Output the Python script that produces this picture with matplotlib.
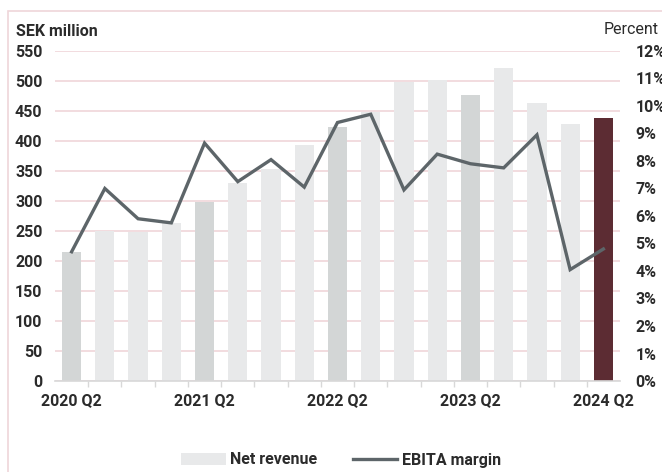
import matplotlib
matplotlib.use("Agg")
import matplotlib.pyplot as plt
from matplotlib.patches import Rectangle, Patch
from matplotlib.lines import Line2D

quarters = ["2020 Q2", "2020 Q3", "2020 Q4", "2021 Q1", "2021 Q2", "2021 Q3", "2021 Q4",
            "2022 Q1", "2022 Q2", "2022 Q3", "2022 Q4", "2023 Q1", "2023 Q2", "2023 Q3",
            "2023 Q4", "2024 Q1", "2024 Q2"]
net_revenue = [215, 250, 248, 264, 298, 330, 353, 394, 424, 449, 498, 502, 476, 522, 463, 428, 438]
ebita_margin = [4.7, 7.0, 5.9, 5.75, 8.65, 7.25, 8.05, 7.05, 9.4, 9.7, 6.95, 8.25, 7.9, 7.75, 8.95, 4.05, 4.8]
tick_labels = ["2020 Q2", "2021 Q2", "2022 Q2", "2023 Q2", "2024 Q2"]
left_ticks = list(range(0, 551, 50))
right_ticks = list(range(0, 13))

FONT = "Roboto"
TXT = "#2b2b2b"
FS = 11.5
WT = "bold"
plt.rcParams["font.family"] = [FONT, "DejaVu Sans"]

fig = plt.figure(figsize=(6.62, 4.72), dpi=100)
W, H = 662, 472
ax = fig.add_axes([55 / W, 1 - 381 / H, (620 - 55) / W, (381 - 51) / H])

# frame around figure
fig.patches.append(Rectangle((8 / W, -0.01), 1.0, 1 - 11 / H + 0.01, transform=fig.transFigure,
                             fill=False, edgecolor="#efd6d9", linewidth=1.2, zorder=0))

x = list(range(len(quarters)))
colors = []
for i, q in enumerate(quarters):
    if i == len(quarters) - 1:
        colors.append("#5c2c33")
    elif q.endswith("Q2"):
        colors.append("#d3d6d6")
    else:
        colors.append("#e8e9ea")
ax.bar(x, net_revenue, width=0.58, color=colors, zorder=2)

ax.set_xlim(-0.5, len(quarters) - 0.5)
ax.set_ylim(0, 550)
ax.set_yticks(left_ticks)
ax.grid(axis="y", color="#f0d6d9", linewidth=1.2, zorder=0)
ax.set_axisbelow(True)
for s in ["top", "right", "left"]:
    ax.spines[s].set_visible(False)
ax.spines["bottom"].set_color("#d8d8d8")
ax.spines["bottom"].set_linewidth(1.2)

major_pos = [quarters.index(t) for t in tick_labels]
ax.set_xticks(major_pos)
ax.set_xticklabels(tick_labels)
ax.set_xticks([i + 0.5 for i in range(len(quarters) - 1)], minor=True)
ax.tick_params(axis="x", which="major", length=0, pad=9, labelsize=FS, labelcolor=TXT)
ax.tick_params(axis="x", which="minor", length=4, color="#d8d8d8", width=1)
ax.tick_params(axis="y", length=0, pad=9, labelsize=FS, labelcolor=TXT)
for lab in ax.get_xticklabels() + ax.get_yticklabels():
    lab.set_fontweight(WT)

ax2 = ax.twinx()
ax2.plot(x, ebita_margin, color="#5d6569", linewidth=2.4, zorder=3, solid_joinstyle="miter")
ax2.set_ylim(0, 12)
ax2.set_yticks(right_ticks)
ax2.set_yticklabels([f"{t}%" for t in right_ticks])
ax2.tick_params(axis="y", length=0, pad=11, labelsize=FS, labelcolor=TXT)
for lab in ax2.get_yticklabels():
    lab.set_fontweight(WT)
for s in ax2.spines.values():
    s.set_visible(False)

fig.text(16 / W, 1 - 32 / H, "SEK million", fontsize=FS, color=TXT, fontweight=WT,
         ha="left", va="center")
fig.text(604 / W, 1 - 29 / H, "Percent", fontsize=FS, color=TXT, fontweight="normal",
         ha="left", va="center")

handles = [Patch(facecolor="#e8e9ea", edgecolor="none", label="Net revenue"),
           Line2D([0], [0], color="#5d6569", linewidth=2.4, label="EBITA margin")]
leg = fig.legend(handles=handles, loc="center", bbox_to_anchor=(341 / W, 1 - 460 / H), ncol=2,
                 frameon=False, fontsize=FS, handlelength=2.8, handleheight=0.7,
                 columnspacing=2.2, handletextpad=0.3)
for t in leg.get_texts():
    t.set_color(TXT)
    t.set_fontweight(WT)

fig.savefig("out.png", dpi=100)
